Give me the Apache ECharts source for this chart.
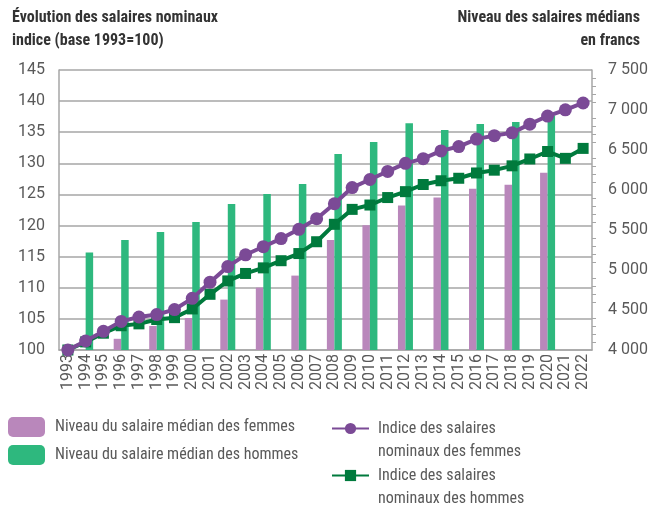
<!DOCTYPE html>
<html>
<head>
<meta charset="utf-8">
<script src="https://cdn.jsdelivr.net/npm/echarts@6/dist/echarts.min.js"></script>
<style>
  html, body { margin: 0; padding: 0; background: #fff; }
  #chart { width: 652px; height: 509px; }
</style>
</head>
<body>
<div id="chart"></div>
<script>
const years = ['1993', '1994', '1995', '1996', '1997', '1998', '1999', '2000', '2001', '2002',
  '2003', '2004', '2005', '2006', '2007', '2008', '2009', '2010', '2011', '2012',
  '2013', '2014', '2015', '2016', '2017', '2018', '2019', '2020', '2021', '2022']

// salaires médians en francs (relevés seulement les années paires)
const salaireFemmes = [null, 3950, null, 4140, null, 4300, null, 4400, null, 4630,
  null, 4780, null, 4930, null, 5375, null, 5560, null, 5805,
  null, 5905, null, 6015, null, 6065, null, 6215, null, null]
const salaireHommes = [null, 5220, null, 5375, null, 5475, null, 5600, null, 5825,
  null, 5950, null, 6075, null, 6450, null, 6600, null, 6835,
  null, 6750, null, 6825, null, 6850, null, 6930, null, null]

// indices des salaires nominaux (base 1993 = 100)
const indiceFemmes = [100, 101.45, 103.0, 104.6, 105.3, 105.7, 106.5, 108.3, 110.9, 113.4,
  115.3, 116.6, 117.9, 119.4, 121.1, 123.5, 126.1, 127.4, 128.7, 130.0,
  130.75, 132.0, 132.7, 133.9, 134.45, 134.9, 136.3, 137.6, 138.6, 139.7]
const indiceHommes = [100, 101.3, 102.7, 103.9, 104.2, 104.9, 105.2, 106.6, 108.95, 111.1,
  112.3, 113.2, 114.35, 115.5, 117.4, 120.2, 122.6, 123.3, 124.5, 125.45,
  126.6, 127.2, 127.6, 128.45, 128.9, 129.6, 130.7, 131.9, 130.8, 132.4]

const leftTicks = { min: 100, max: 145, interval: 5 }
const rightTicks = { min: 4000, max: 7500, interval: 500 }

const names = {
  barF: 'Niveau du salaire médian des femmes',
  barH: 'Niveau du salaire médian des hommes',
  lineF: 'Indice des salaires nominaux des femmes',
  lineH: 'Indice des salaires nominaux des hommes'
}
// ligne vide en tête pour que la 1re ligne soit centrée sur le symbole
const legendLines = {
  [names.lineF]: ' \nIndice des salaires\nnominaux des femmes',
  [names.lineH]: ' \nIndice des salaires\nnominaux des hommes'
}

const gris = '#a6a6a6'
const texte = '#595959'
const chiffres = 'Roboto, "Noto Sans", sans-serif'
const etroit = '"Roboto Condensed", "Liberation Sans Narrow", sans-serif'

const chart = echarts.init(document.getElementById('chart'), null, { renderer: 'canvas' })

const titre = (text, pos) => ({
  type: 'text', ...pos,
  style: { text: text, font: 'bold 16px "Roboto Condensed"', fill: '#333' }
})

const lineLegend = (name, top) => ({
  data: [name],
  orient: 'vertical',
  left: 331,
  top: top,
  padding: 0,
  itemWidth: 37,
  itemHeight: 14,
  formatter: n => legendLines[n],
  textStyle: { fontFamily: etroit, fontSize: 16, color: texte, lineHeight: 23, padding: [0, 0, 0, 4] }
})

chart.setOption({
  animation: false,
  textStyle: { fontFamily: chiffres },
  graphic: [
    titre('Évolution des salaires nominaux', { left: 12, top: 10 }),
    titre('indice (base 1993=100)', { left: 12, top: 33 }),
    titre('Niveau des salaires médians', { right: 12, top: 10 }),
    titre('en francs', { right: 12, top: 33 })
  ],
  legend: [
    {
      data: [names.barF, names.barH],
      orient: 'vertical',
      left: 8,
      top: 417,
      padding: 0,
      itemWidth: 37,
      itemHeight: 20,
      itemGap: 8,
      textStyle: { fontFamily: etroit, fontSize: 16, color: texte, padding: [0, 0, 0, 5] }
    },
    lineLegend(names.lineF, 394),
    lineLegend(names.lineH, 441)
  ],
  grid: { left: 59, right: 60, top: 70, bottom: 159 },
  xAxis: {
    type: 'category',
    data: years,
    axisLine: { lineStyle: { color: gris, width: 1.5 } },
    axisTick: { show: false },
    axisLabel: { rotate: 90, interval: 0, fontSize: 16, color: texte, margin: 4 }
  },
  yAxis: [
    {
      type: 'value',
      ...leftTicks,
      position: 'left',
      axisLine: { show: true, lineStyle: { color: gris, width: 1.5 } },
      axisTick: { show: false },
      splitLine: { lineStyle: { color: gris, width: 1.5 } },
      axisLabel: { fontSize: 16, color: texte, margin: 14 }
    },
    {
      type: 'value',
      ...rightTicks,
      position: 'right',
      axisLine: { show: true, lineStyle: { color: gris, width: 1.5 } },
      axisTick: { show: false },
      minorTick: { show: true, splitNumber: 5, length: 4, lineStyle: { color: gris } },
      splitLine: { show: false },
      axisLabel: {
        fontSize: 16, color: texte, margin: 16,
        formatter: v => String(v).replace(/\B(?=(\d{3})+(?!\d))/g, ' ')
      }
    }
  ],
  series: [
    {
      name: names.barF, type: 'bar', yAxisIndex: 1, data: salaireFemmes,
      barWidth: 7.5, barGap: '0%', itemStyle: { color: '#b987bb' }, z: 1
    },
    {
      name: names.barH, type: 'bar', yAxisIndex: 1, data: salaireHommes,
      barWidth: 7.5, barGap: '0%', itemStyle: { color: '#2eb87e' }, z: 1
    },
    {
      name: names.lineF, type: 'line', yAxisIndex: 0, data: indiceFemmes,
      symbol: 'circle', symbolSize: 13,
      lineStyle: { color: '#7b4a96', width: 4 },
      itemStyle: { color: '#7b4a96' }, z: 4
    },
    {
      name: names.lineH, type: 'line', yAxisIndex: 0, data: indiceHommes,
      symbol: 'rect', symbolSize: 11,
      lineStyle: { color: '#007a3d', width: 4 },
      itemStyle: { color: '#007a3d' }, z: 3
    }
  ]
})
</script>
</body>
</html>
